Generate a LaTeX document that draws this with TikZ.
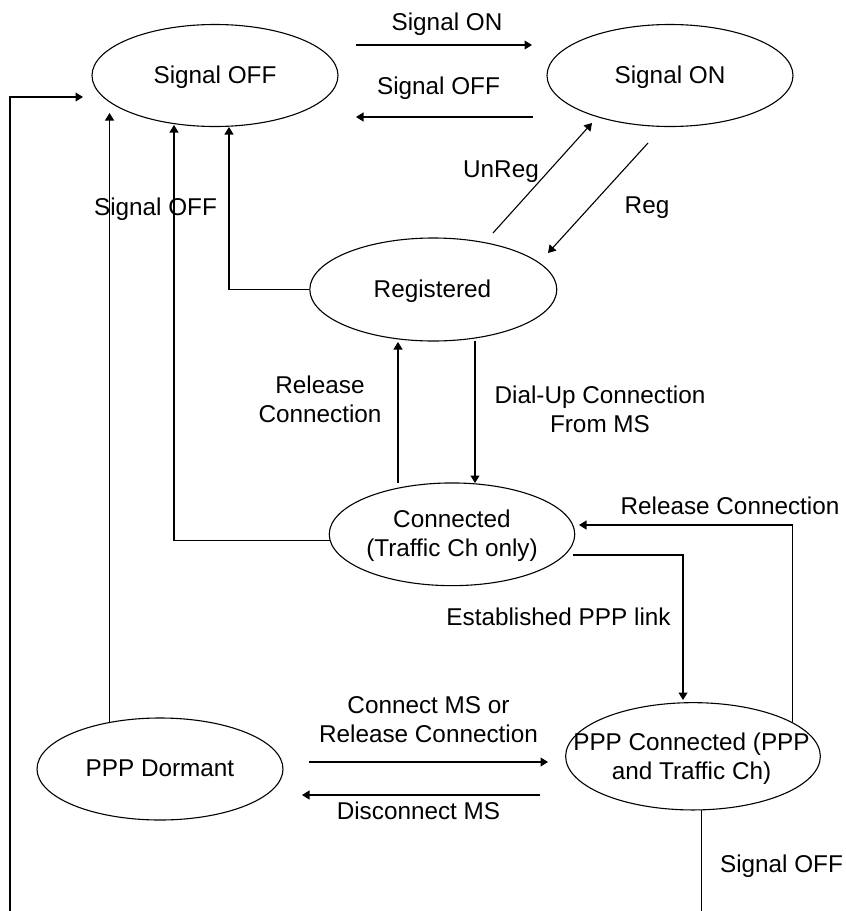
\documentclass[tikz,border=0pt]{standalone}
\usepackage{fontspec}
\setmainfont{Liberation Sans}
\usetikzlibrary{arrows.meta,shapes.geometric}
\newcommand\duoline[2]{\vtop{\halign{\hfil##\hfil\cr #1\cr #2\cr}}}
\begin{document}
\begin{tikzpicture}[x=1pt,y=-1pt,
  state/.style={draw, ellipse, inner sep=0pt, line width=1.1pt, minimum width=246pt, minimum height=102pt},
  txt/.style={inner sep=0pt, anchor=base, font=\fontsize{24.3pt}{29pt}\selectfont},
  arr/.style={line width=1.1pt, -{Triangle[length=7.5pt,width=9pt]}},
  wire/.style={line width=1.1pt}]
\useasboundingbox (0,0) rectangle (846,911);

% states
\node[state] (soff) at (215,75.5) {};
\node[state] (son) at (670,75.5) {};
\node[state, minimum width=247pt, minimum height=103pt] (reg) at (433.3,289.5) {};
\node[state, minimum width=245.5pt, minimum height=102.7pt] (conn) at (452,534.3) {};
\node[state] (dorm) at (160,769) {};
\node[state, minimum width=254.7pt, minimum height=107.3pt] (pppc) at (693,756.3) {};

% state texts
\node[txt] (tsoff) at (215,83) {Signal OFF};
\node[txt] (tson) at (670,83) {Signal ON};
\node[txt] (treg) at (432.5,297) {Registered};
\node[txt] (tconn) at (452,527) {\duoline{Connected}{(Traffic Ch only)}};
\node[txt] (tdorm) at (160,776.5) {PPP Dormant};
\node[txt] (tpppc) at (691.5,750) {\duoline{PPP Connected (PPP}{and Traffic Ch)}};

% free connector ends
\coordinate (on1) at (356,45);   \coordinate (on2) at (532,45);
\coordinate (of1) at (533,117);  \coordinate (of2) at (356,117);
\coordinate (lb)  at (10,911);   \coordinate (lt)  at (83,97);
\coordinate (t1)  at (110,113);
\coordinate (t2)  at (174,125);
\coordinate (t3)  at (229,127);
\coordinate (ur1) at (493,233);  \coordinate (ur2) at (592,123);
\coordinate (rg1) at (648,143);  \coordinate (rg2) at (548,253);
\coordinate (rc1) at (398,483);  \coordinate (rc2) at (398,342);
\coordinate (du1) at (475,341);  \coordinate (du2) at (475,483);
\coordinate (t4)  at (579,525);
\coordinate (ep1) at (573,555);  \coordinate (ep2) at (683,700);
\coordinate (cm1) at (309,762);  \coordinate (cm2) at (548,762);
\coordinate (dm1) at (540,795);  \coordinate (dm2) at (302,795);
\coordinate (bb)  at (702,911);

% connectors
\draw[arr] (on1) -- (on2);
\draw[arr] (of1) -- (of2);
\draw[arr] (lb) |- (lt);
\draw[arr] (dorm.137) -- (dorm.137 |- t1);
\draw[arr] (conn.183.2) -| (t2);
\draw[arr] (reg.west) -| (t3);
\draw[arr] (ur1) -- (ur2);
\draw[arr] (rg1) -- (rg2);
\draw[arr] (rc1) -- (rc2);
\draw[arr] (du1) -- (du2);
\draw[arr] (pppc.19.3) |- (t4);
\draw[arr] (ep1) -| (ep2);
\draw[arr] (cm1) -- (cm2);
\draw[arr] (dm1) -- (dm2);
\draw[wire] (pppc.279.55) -- (pppc.279.55 |- bb);

% connector labels
\node[txt] (l1) at (447,30) {Signal ON};
\node[txt] (l2) at (438.5,94) {Signal OFF};
\node[txt] (l3) at (155.5,215) {Signal OFF};
\node[txt] (l4) at (501,177) {UnReg};
\node[txt] (l5) at (647,213) {Reg};
\node[txt] (l6) at (320,393) {\duoline{Release}{Connection}};
\node[txt] (l7) at (600,403) {\duoline{Dial-Up Connection}{From MS}};
\node[txt] (l8) at (730,514) {Release Connection};
\node[txt] (l9) at (558.5,625) {Established PPP link};
\node[txt] (l10) at (428.5,713) {\duoline{Connect MS or}{Release Connection}};
\node[txt] (l11) at (418.5,819) {Disconnect MS};
\node[txt] (l12) at (781.5,872) {Signal OFF};
\end{tikzpicture}
\end{document}
